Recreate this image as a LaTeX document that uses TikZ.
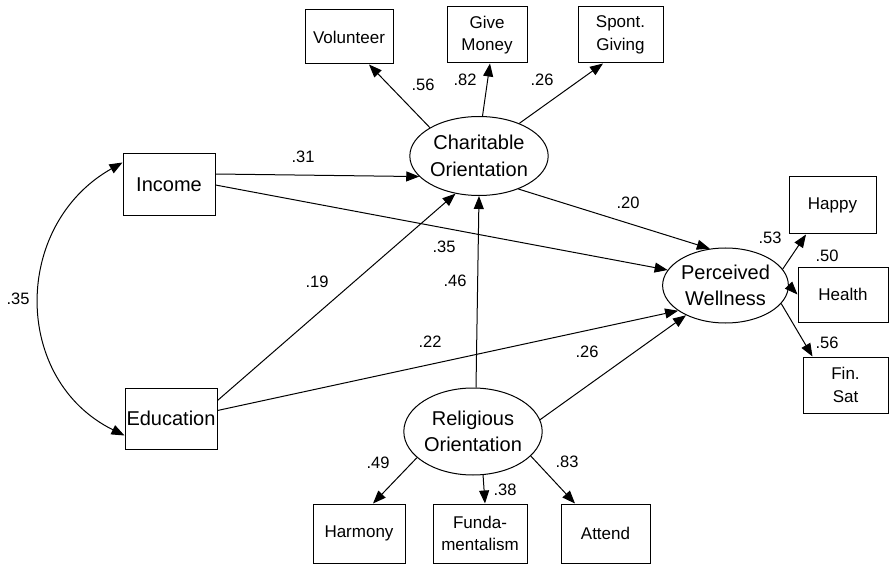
\documentclass[tikz,border=0pt]{standalone}
\usepackage{fontspec}
\setmainfont{Liberation Sans}
\usetikzlibrary{shapes.geometric,arrows.meta}
\tikzset{
  obs/.style={draw, line width=1pt, rectangle, inner sep=0pt, align=center,
              font=\fontsize{17}{22.5}\selectfont},
  lat/.style={draw, line width=1pt, ellipse, inner sep=0pt, align=center,
              font=\fontsize{20}{26.5}\selectfont},
  var/.style={draw, line width=1pt, rectangle, inner sep=0pt, align=center,
              font=\fontsize{20}{24}\selectfont},
  coef/.style={inner sep=0pt, font=\fontsize{16.5}{20}\selectfont},
  arr/.style={line width=1pt, -{Triangle[length=13pt,width=10pt]}},
  darr/.style={line width=1pt, {Triangle[length=13pt,width=10pt]}-{Triangle[length=13pt,width=10pt]}},
}
\begin{document}
\begin{tikzpicture}[x=1pt,y=-1pt]
\useasboundingbox (0,0) rectangle (889,564);
\fill[white] (0,0) rectangle (889,564);
\begin{scope}
\clip (0,0) rectangle (889,564);
% exogenous variables
\node[var, minimum width=92pt, minimum height=62pt] (inc) at (169,185) {Income};
\node[var, minimum width=92pt, minimum height=61pt] (edu) at (171,418.5) {Education};
% latent variables
\node[lat, minimum width=117pt, minimum height=79pt] (char) at (479,156) {Charitable\\Orientation};
\node[lat, minimum width=109pt, minimum height=75pt] (perc) at (725.5,285.5) {Perceived\\Wellness};
\node[lat, minimum width=112pt, minimum height=87pt] (rel) at (473,431.5) {Religious\\Orientation};
% indicators
\node[obs, minimum width=88pt, minimum height=54pt] (vol) at (349,37) {Volunteer};
\node[obs, minimum width=80pt, minimum height=56pt] (gm) at (487,35) {Give\\Money};
\node[obs, minimum width=85pt, minimum height=56pt] (sg) at (620.5,35) {Spont.\\Giving};
\node[obs, minimum width=87pt, minimum height=57pt] (happy) at (832.5,205.5) {Happy};
\node[obs, minimum width=90pt, minimum height=55pt] (health) at (843,294.5) {Health};
\node[obs, minimum width=85pt, minimum height=56pt] (fin) at (845.5,385) {Fin.\\Sat};
\node[obs, minimum width=92pt, minimum height=59pt] (harm) at (359,533.5) {Harmony};
\node[obs, minimum width=94pt, minimum height=59pt] (fund) at (480,533.5) {Funda-\\mentalism};
\node[obs, minimum width=89pt, minimum height=59pt] (att) at (605.5,533.5) {Attend};
% structural paths
\draw[arr] ([yshift=11pt]inc.east) -- (char.199);
\draw[arr] (inc.east) -- (perc.165);
\draw[arr] ([yshift=18pt]edu.east) -- (char.238);
\draw[arr] ([yshift=8pt]edu.east) -- (perc.208);
\draw[arr] ([xshift=3pt]rel.north) -- (char.south);
\draw[arr] (rel.10) -- (perc.217);
\draw[arr] (char.320) -- (perc.113);
\draw[darr] ([yshift=-9pt]inc.north west) .. controls (12,225) and (12,380) .. ([yshift=14pt]edu.south west);
% measurement paths
\draw[arr] (char.150) -- ([xshift=20pt]vol.south);
\draw[arr] (char.85) -- ([xshift=3pt]gm.south);
\draw[arr] (char.39) -- ([xshift=-17.5pt]sg.south);
\draw[arr] (perc.16) -- ([xshift=-26.5pt]happy.south);
\draw[arr] (perc.east) -- (health.west);
\draw[arr] (perc.-18) -- ([xshift=-33pt]fin.north);
\draw[arr] (rel.205) -- ([xshift=14pt]harm.north);
\draw[arr] (rel.-77) -- ([xshift=5pt]fund.north);
\draw[arr] (rel.-23) -- ([xshift=-30.5pt]att.north);
% coefficients
\node[coef] (c1) at (303,157) {.31};
\node[coef] (c2) at (444,247) {.35};
\node[coef] (c3) at (317,282) {.19};
\node[coef] (c4) at (455,281) {.46};
\node[coef] (c5) at (430,342) {.22};
\node[coef] (c6) at (587,352) {.26};
\node[coef] (c7) at (628,203) {.20};
\node[coef] (c8) at (18,299) {.35};
\node[coef] (c9) at (423,85) {.56};
\node[coef] (c10) at (465,80) {.82};
\node[coef] (c11) at (542,80) {.26};
\node[coef] (c12) at (770,238) {.53};
\node[coef] (c13) at (827,256) {.50};
\node[coef] (c14) at (827,343) {.56};
\node[coef] (c15) at (378,463) {.49};
\node[coef] (c16) at (505,490) {.38};
\node[coef] (c17) at (567,462) {.83};
\end{scope}
\end{tikzpicture}
\end{document}
